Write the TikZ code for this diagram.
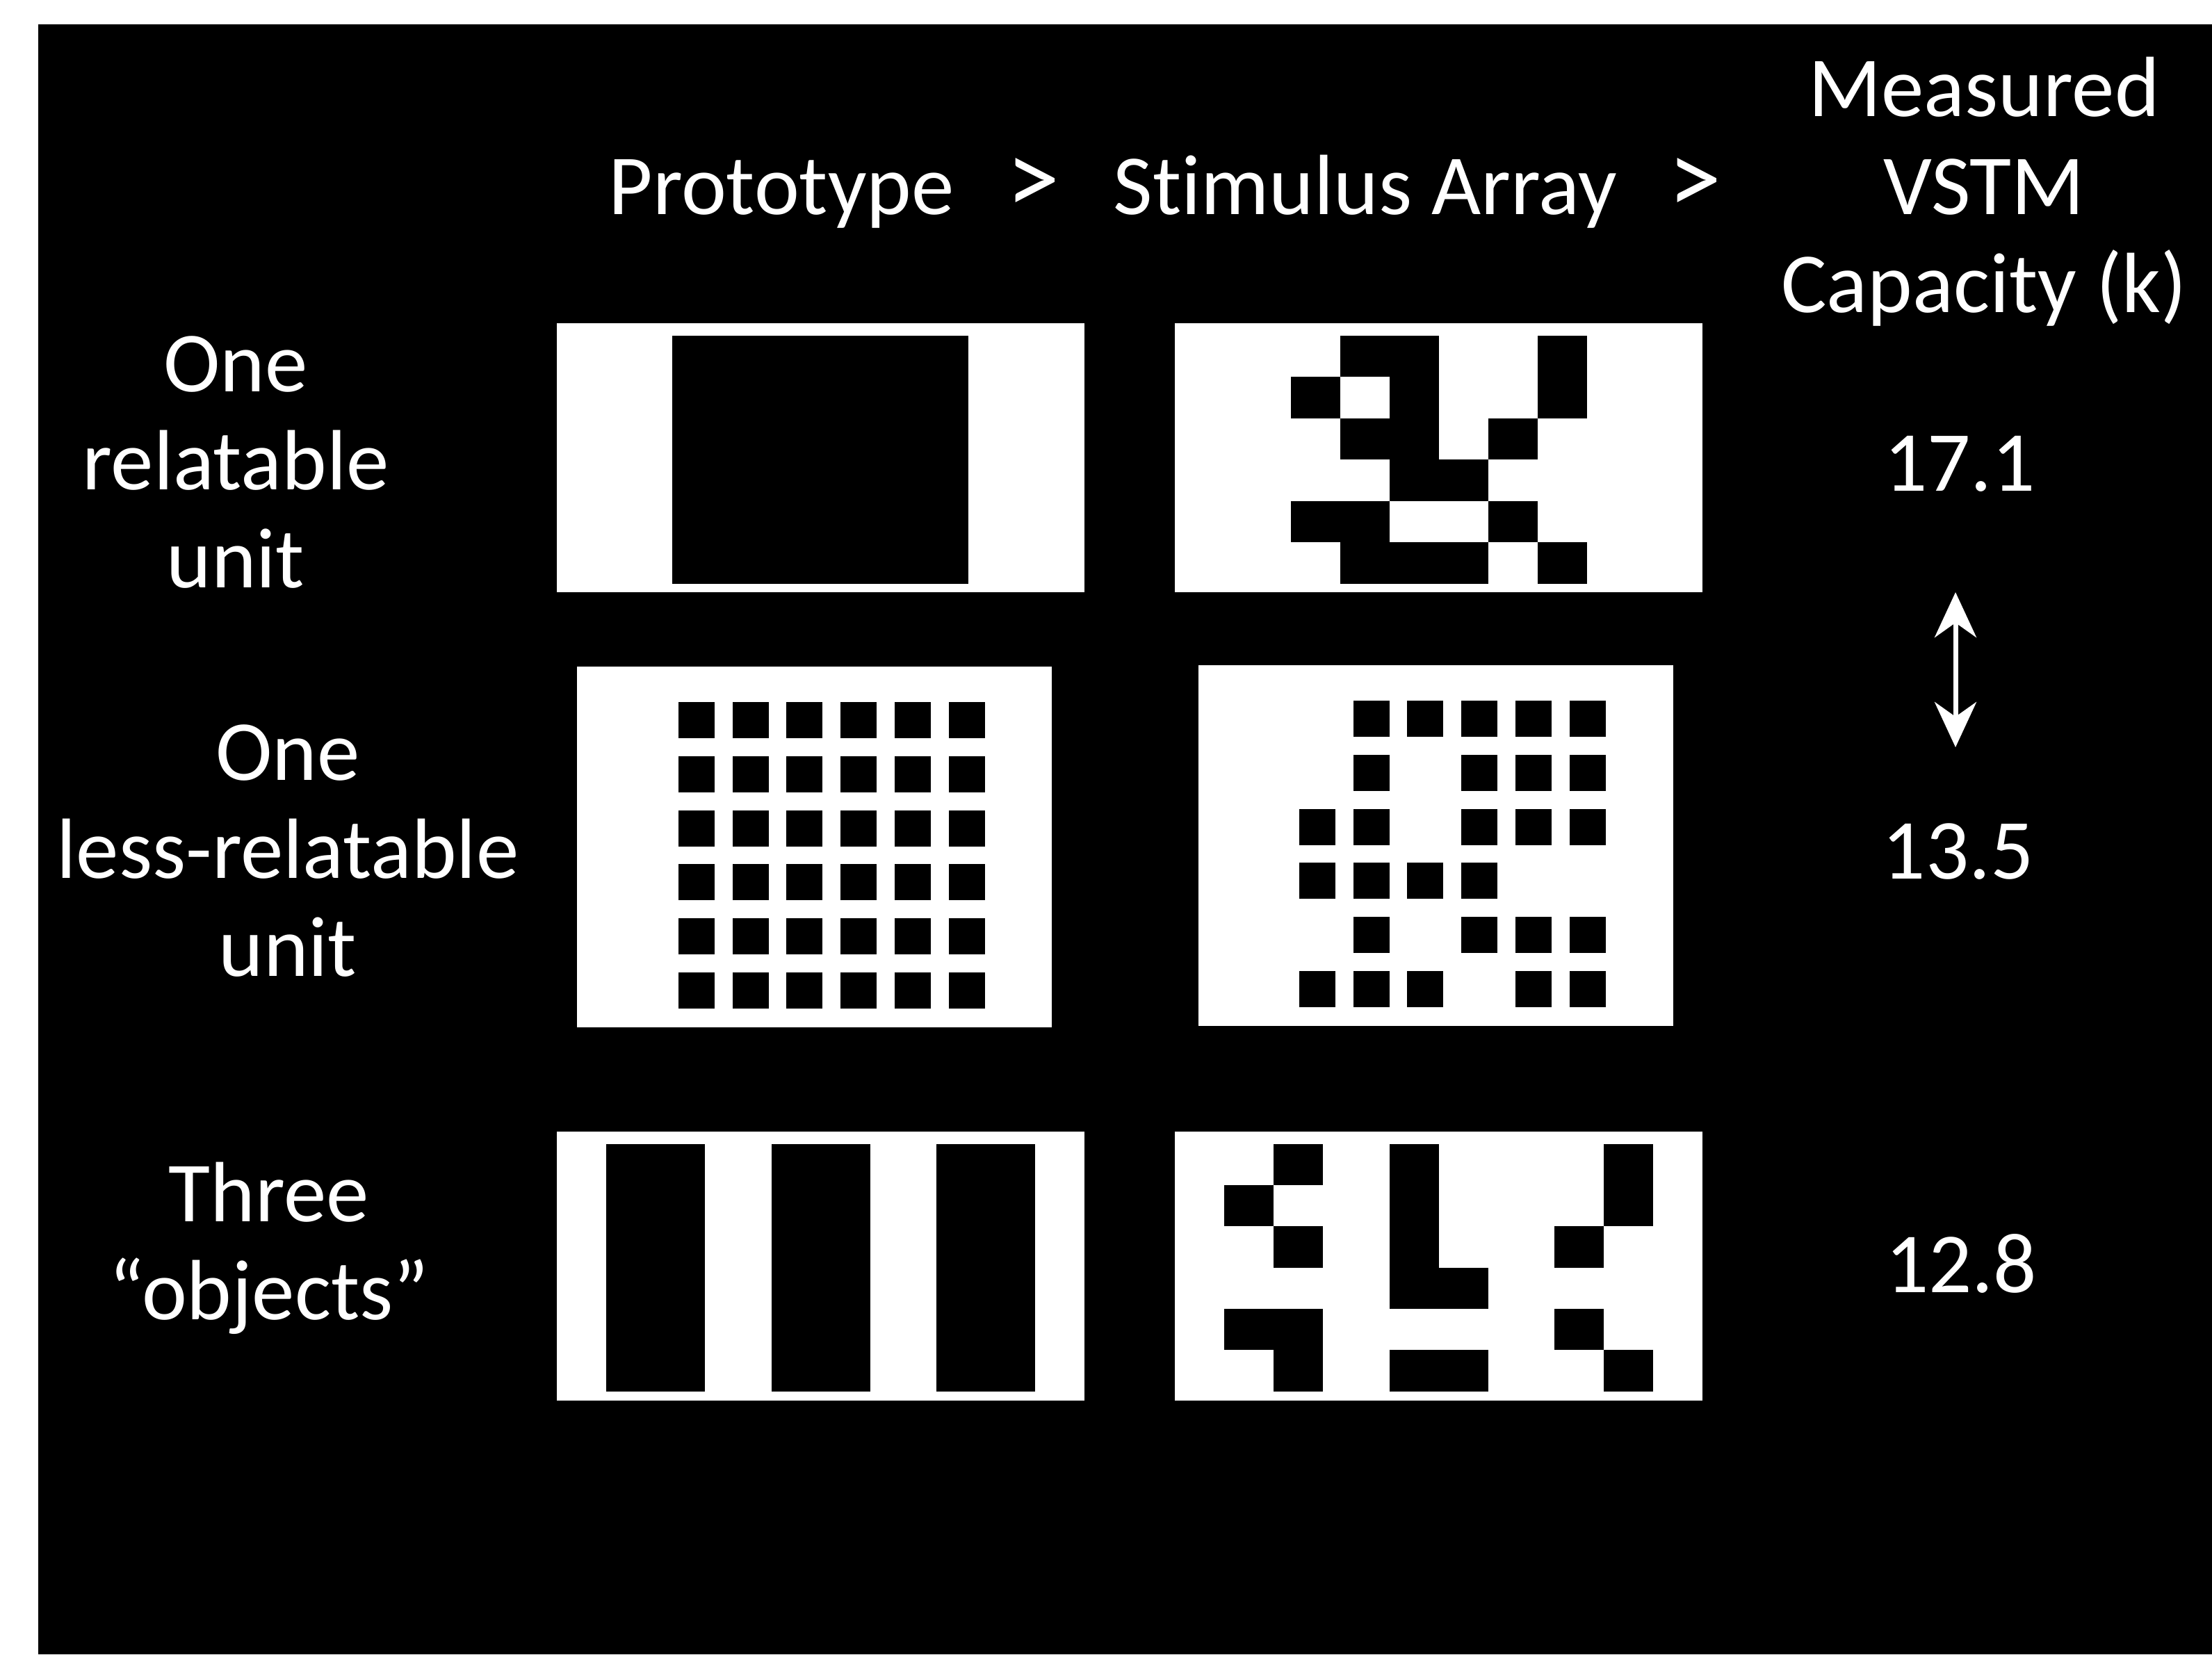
\documentclass[tikz,border=0pt]{standalone}
\usepackage{fontspec}
\setmainfont{Carlito}[Ligatures=NoCommon]
\usepackage{tikz}
\usetikzlibrary{arrows.meta}

\begin{document}
\begin{tikzpicture}[every node/.style={text=white,font=\fontsize{35}{40}\selectfont,inner sep=0pt,outer sep=0pt}, lbl/.style={align=center,anchor=base}, gtsign/.style={anchor=base,font=\fontsize{44}{44}\selectfont}, panel/.style={fill=white,draw=none,minimum width=7.59cm,minimum height=3.87cm}, dotpanel/.style={fill=white,draw=none,minimum width=6.83cm,minimum height=5.19cm}, cell/.style={fill=black}]
\useasboundingbox (0,0) rectangle (31.82,-23.80);
\fill[white] (0,0) rectangle (31.82,-23.80);
\fill[black] (0.55,-0.35) rectangle (31.82,-23.80);
\node[lbl] (hproto) at (11.24,-3.08) {Prototype};
\node[gtsign] (hgta) at (14.86,-3.08) {>};
\node[lbl] (hstim) at (19.64,-3.08) {Stimulus Array};
\node[gtsign] (hgtb) at (24.38,-3.08) {>};
\node[lbl] (hcap) at (28.54,-4.49) {Measured\\VSTM\\Capacity (k)};
\node[lbl] (relat) at (3.39,-8.45) {One\\relatable\\unit};
\node[lbl] (lessrel) at (4.14,-14.04) {One\\less-relatable\\unit};
\node[lbl] (objs) at (3.87,-18.98) {Three\\“objects”};
\node[lbl] (kone) at (28.19,-7.06) {17.1};
\node[lbl] (ktwo) at (28.17,-12.64) {13.5};
\node[lbl] (kthree) at (28.21,-18.59) {12.8};
\node[panel] (proto1) at (11.805,-6.585) {};
\node[panel] (stim1) at (20.695,-6.585) {};
\node[dotpanel] (proto2) at (11.71,-12.185) {};
\node[dotpanel] (stim2) at (20.65,-12.16) {};
\node[panel] (proto3) at (11.805,-18.21) {};
\node[panel] (stim3) at (20.695,-18.21) {};
\fill[cell] (9.67,-4.83) rectangle (13.93,-8.40);
\foreach \c/\r in {1/0,2/0,5/0,0/1,2/1,5/1,1/2,2/2,4/2,2/3,3/3,0/4,1/4,4/4,1/5,2/5,3/5,5/5}
  \fill[cell] ({18.566+0.7105*\c},{-4.827-0.5955*\r}) rectangle ++(0.7105,-0.5955);
\foreach \c in {0,...,5}
  \foreach \r in {0,...,5}
    \fill[cell] ({9.76+0.777*\c},{-10.10-0.778*\r}) rectangle ++(0.52,-0.52);
\foreach \c/\r in {1/0,2/0,3/0,4/0,5/0,1/1,3/1,4/1,5/1,0/2,1/2,3/2,4/2,5/2,0/3,1/3,2/3,3/3,1/4,3/4,4/4,5/4,0/5,1/5,2/5,4/5,5/5}
  \fill[cell] ({18.69+0.777*\c},{-10.08-0.778*\r}) rectangle ++(0.52,-0.52);
\foreach \x in {8.72,11.095,13.47}
  \fill[cell] (\x,-16.46) rectangle ++(1.42,-3.56);
\foreach \g/\k/\r in {0/1/0,0/0/1,0/1/2,0/0/4,0/1/4,0/1/5,1/0/0,1/0/1,1/0/2,1/0/3,1/1/3,1/0/5,1/1/5,2/1/0,2/1/1,2/0/2,2/0/4,2/1/5}
  \fill[cell] ({17.61+2.375*\g+0.711*\k},{-16.457-0.5933*\r}) rectangle ++(0.711,-0.5933);
\coordinate (atop) at (28.13,-8.52);
\coordinate (abot) at (28.13,-10.75);
\draw[white,line width=2pt,{Stealth[length=6.5mm,width=6mm]}-{Stealth[length=6.5mm,width=6mm]}] (atop) -- (abot);
\end{tikzpicture}
\end{document}
